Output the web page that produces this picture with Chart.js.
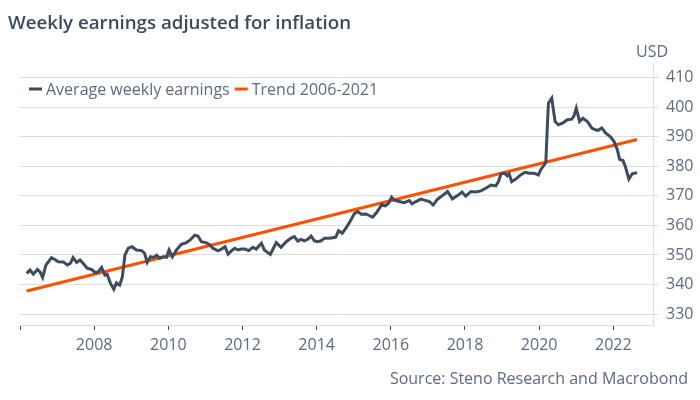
<!DOCTYPE html>
<html>
<head>
<meta charset="utf-8">
<title>Weekly earnings adjusted for inflation</title>
<script src="https://cdn.jsdelivr.net/npm/chart.js@4.4.0/dist/chart.umd.min.js"></script>
<style>
  html, body { margin: 0; padding: 0; background: #fff; }
  #wrap { position: relative; width: 700px; height: 400px; }
</style>
</head>
<body>
<div id="wrap"><canvas id="chart" width="700" height="400"></canvas></div>
<script>
// values, dates as decimal years
const earningsDates = [
  2006.18, 2006.27, 2006.36, 2006.47, 2006.54, 2006.61, 2006.70, 2006.85, 2006.94, 2007.03,
  2007.17, 2007.28, 2007.36, 2007.43, 2007.53, 2007.62, 2007.70, 2007.81, 2007.93, 2008.04,
  2008.11, 2008.20, 2008.29, 2008.35, 2008.44, 2008.53, 2008.60, 2008.69, 2008.76, 2008.83,
  2008.92, 2009.02, 2009.14, 2009.28, 2009.36, 2009.43, 2009.52, 2009.61, 2009.68, 2009.77,
  2009.86, 2009.95, 2010.02, 2010.11, 2010.22, 2010.35, 2010.49, 2010.59, 2010.71, 2010.80,
  2010.89, 2011.01, 2011.11, 2011.20, 2011.34, 2011.43, 2011.53, 2011.61, 2011.70, 2011.79,
  2011.88, 2011.97, 2012.06, 2012.17, 2012.28, 2012.37, 2012.51, 2012.59, 2012.75, 2012.91,
  2013.04, 2013.18, 2013.31, 2013.40, 2013.49, 2013.58, 2013.67, 2013.76, 2013.85, 2013.94,
  2014.03, 2014.12, 2014.21, 2014.34, 2014.51, 2014.59, 2014.69, 2014.79, 2014.90, 2015.02,
  2015.11, 2015.20, 2015.33, 2015.44, 2015.51, 2015.60, 2015.69, 2015.76, 2015.85, 2015.94,
  2016.02, 2016.09, 2016.23, 2016.36, 2016.50, 2016.57, 2016.68, 2016.81, 2016.95, 2017.04,
  2017.14, 2017.26, 2017.39, 2017.53, 2017.66, 2017.80, 2017.92, 2018.02, 2018.16, 2018.29,
  2018.43, 2018.56, 2018.70, 2018.83, 2018.90, 2018.97, 2019.06, 2019.14, 2019.19, 2019.26,
  2019.37, 2019.50, 2019.62, 2019.73, 2019.86, 2019.98, 2020.04, 2020.18, 2020.22, 2020.25,
  2020.34, 2020.37, 2020.43, 2020.52, 2020.63, 2020.76, 2020.88, 2020.94, 2021.00, 2021.09,
  2021.18, 2021.30, 2021.42, 2021.52, 2021.59, 2021.69, 2021.79, 2021.93, 2022.02, 2022.11,
  2022.17, 2022.26, 2022.33, 2022.42, 2022.51, 2022.64
];
const earningsValues = [
  343.8, 344.9, 343.5, 345.1, 344.3, 342.4, 346.6, 349.1, 348.5, 347.7,
  347.6, 346.6, 347.2, 349.1, 347.5, 348.3, 347.2, 345.5, 345.1, 344.0,
  344.3, 345.8, 343.2, 343.5, 340.4, 338.4, 340.6, 339.8, 342.6, 350.0,
  352.3, 352.8, 351.7, 351.5, 350.6, 347.5, 349.4, 349.2, 349.9, 348.9,
  349.4, 349.2, 351.7, 349.4, 351.7, 353.6, 354.2, 355.1, 356.7, 356.4,
  354.5, 354.2, 353.6, 352.3, 351.4, 352.0, 352.8, 350.3, 351.4, 352.3,
  351.7, 352.0, 352.0, 351.5, 352.6, 352.0, 354.0, 351.7, 350.2, 354.2,
  352.6, 354.5, 355.7, 356.2, 354.7, 355.3, 354.8, 355.3, 356.4, 354.8,
  354.5, 354.8, 355.7, 355.7, 356.0, 358.2, 357.4, 359.1, 361.3, 364.1,
  364.7, 363.8, 363.9, 363.2, 362.8, 364.1, 365.8, 367.2, 366.6, 367.5,
  369.6, 368.6, 368.1, 367.7, 368.4, 367.3, 368.1, 368.9, 368.4, 368.1,
  366.9, 368.9, 370.1, 371.5, 369.0, 370.1, 371.3, 369.9, 371.5, 371.3,
  371.7, 372.6, 373.7, 373.4, 374.8, 377.5, 377.7, 376.8, 377.5, 374.8,
  375.7, 377.1, 378.0, 377.7, 377.7, 377.1, 378.8, 381.3, 393.4, 401.4,
  403.1, 400.3, 395.2, 394.1, 394.6, 395.8, 396.0, 397.1, 399.7, 395.2,
  396.3, 395.2, 393.0, 392.4, 392.2, 393.0, 391.3, 389.9, 388.4, 385.6,
  382.4, 382.0, 379.7, 375.7, 377.5, 377.9
];
const trendDates = [2006.18, 2022.64];
const trendValues = [337.8, 389.1];

const yearTicks = [2006, 2008, 2010, 2012, 2014, 2016, 2018, 2020, 2022];
const usdTicks = [330, 340, 350, 360, 370, 380, 390, 400, 410];

const slate = '#3d4b60';
const orange = '#ff5000';
const gridColor = '#dedede';
const textColor = '#5b6b82';
const fontFamily = '"Open Sans", "DejaVu Sans", sans-serif';

// title, USD label, source and the in-plot legend
const decorations = {
  id: 'decorations',
  afterDraw(chart) {
    const ctx = chart.ctx;
    ctx.save();
    ctx.textBaseline = 'alphabetic';

    ctx.fillStyle = '#3b4a5e';
    ctx.font = '600 18.7px ' + fontFamily;
    ctx.textAlign = 'left';
    ctx.fillText('Weekly earnings adjusted for inflation', 8, 29);

    ctx.fillStyle = textColor;
    ctx.font = '16px ' + fontFamily;
    ctx.fillText('USD', 636, 57);

    ctx.textAlign = 'right';
    ctx.fillText('Source: Steno Research and Macrobond', 688, 384);

    // legend
    ctx.textAlign = 'left';
    let x = 29;
    const y = 89;
    chart.data.datasets.forEach(ds => {
      ctx.strokeStyle = ds.borderColor;
      ctx.lineWidth = 3;
      ctx.beginPath();
      ctx.moveTo(x, y);
      ctx.lineTo(x + 13, y);
      ctx.stroke();
      ctx.fillStyle = textColor;
      ctx.fillText(ds.label, x + 17, y + 6);
      x += 17 + ctx.measureText(ds.label).width + 5;
    });
    ctx.restore();
  }
};

const ctx = document.getElementById('chart').getContext('2d');
new Chart(ctx, {
  type: 'line',
  data: {
    datasets: [
      {
        label: 'Average weekly earnings',
        data: earningsDates.map((d, i) => ({ x: d, y: earningsValues[i] })),
        borderColor: slate,
        borderWidth: 3,
        pointRadius: 0,
        tension: 0
      },
      {
        label: 'Trend 2006-2021',
        data: trendDates.map((d, i) => ({ x: d, y: trendValues[i] })),
        borderColor: orange,
        borderWidth: 3,
        pointRadius: 0
      }
    ]
  },
  options: {
    responsive: false,
    animation: false,
    layout: { padding: { left: 20, top: 63, right: 0, bottom: 0 } },
    plugins: {
      legend: { display: false },
      tooltip: { enabled: false }
    },
    scales: {
      x: {
        type: 'linear',
        min: 2006,
        max: 2023.07,
        afterBuildTicks: scale => { scale.ticks = yearTicks.map(v => ({ value: v })); },
        afterFit: scale => { scale.height = 75; },
        grid: { drawOnChartArea: false, drawTicks: true, tickLength: 5, color: slate },
        border: { display: true, color: gridColor },
        ticks: {
          color: textColor,
          font: { family: fontFamily, size: 16 },
          padding: 6,
          maxRotation: 0,
          callback: v => (v === 2006 ? '' : String(v))
        }
      },
      y: {
        position: 'right',
        min: 326.3,
        max: 415,
        afterBuildTicks: scale => { scale.ticks = usdTicks.map(v => ({ value: v })); },
        afterFit: scale => { scale.width = 47; },
        grid: { color: gridColor, tickLength: 6 },
        border: { display: true, color: gridColor },
        ticks: {
          color: textColor,
          font: { family: fontFamily, size: 16 },
          padding: 7
        }
      }
    }
  },
  plugins: [decorations]
});
</script>
</body>
</html>
